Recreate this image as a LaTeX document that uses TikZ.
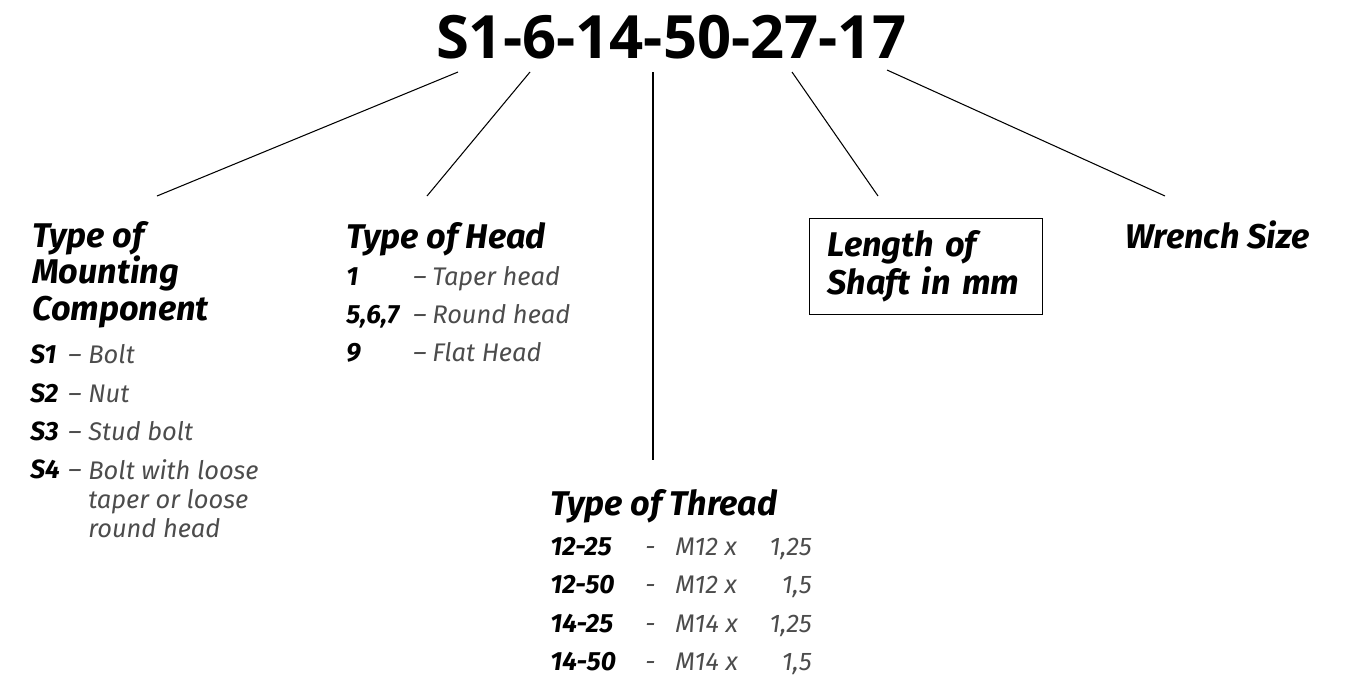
\documentclass[tikz,border=0pt]{standalone}
\usepackage{fontspec}
\setmainfont{Fira Sans}
\newfontfamily\codefont{Open Sans}
\usetikzlibrary{positioning}

\begin{document}
\begin{tikzpicture}[x=0.02cm, y=-0.02cm,
    head/.style={anchor=base west, align=left, inner sep=0pt,
                 font=\fontsize{19.5}{20.5}\selectfont\bfseries\itshape},
    key/.style={anchor=base west, inner sep=0pt,
                font=\fontsize{15}{16.5}\selectfont\bfseries\itshape},
    desc/.style={anchor=base west, align=left, inner sep=0pt, text=black!70,
                 font=\fontsize{14.5}{16.5}\selectfont\itshape},
    link/.style={line width=0.6pt}
]
\useasboundingbox (0,0) rectangle (1351,677);

\node[anchor=base, inner sep=0pt, font=\codefont\fontsize{34}{34}\selectfont\bfseries]
    (code) at (671,58) {S1-6-14-50-27-17};

% mounting component (multi-line nodes sit on their last baseline)
\node[head] (mount) at (32,320) {Type of\\Mounting\\Component};
\node[key] (s1) at (30,363) {S1};
\node[key] (s2) at (30,402) {S2};
\node[key] (s3) at (30,440) {S3};
\node[key] (s4) at (30,478) {S4};
\node[desc] (s1dash) at (68,363) {--};
\node[desc] (s2dash) at (68,402) {--};
\node[desc] (s3dash) at (68,440) {--};
\node[desc] (s4dash) at (68,478) {--};
\node[desc] (s1text) at (88,363) {Bolt};
\node[desc] (s2text) at (88,402) {Nut};
\node[desc] (s3text) at (88,440) {Stud bolt};
\node[desc] (s4text) at (88,537) {Bolt with loose\\taper or loose\\round head};

% head
\node[head] (head) at (346,248) {Type of Head};
\node[key] (h1) at (346,285) {1};
\node[key] (h5) at (346,323) {5,6,7};
\node[key] (h9) at (346,361) {9};
\node[desc] (h1dash) at (413,285) {--};
\node[desc] (h5dash) at (413,323) {--};
\node[desc] (h9dash) at (413,361) {--};
\node[desc] (h1text) at (432,285) {Taper head};
\node[desc] (h5text) at (432,323) {Round head};
\node[desc] (h9text) at (432,361) {Flat Head};

% thread
\node[head] (thread) at (550,515) {Type of Thread};
\node[key] (t1) at (550,555) {12-25};
\node[key] (t2) at (550,593) {12-50};
\node[key] (t3) at (550,632) {14-25};
\node[key] (t4) at (550,670) {14-50};
\node[desc] (t1dash) at (645,555) {-};
\node[desc] (t2dash) at (645,593) {-};
\node[desc] (t3dash) at (645,632) {-};
\node[desc] (t4dash) at (645,670) {-};
\node[desc] (t1size) at (675,555) {M12 x};
\node[desc] (t2size) at (675,593) {M12 x};
\node[desc] (t3size) at (675,632) {M14 x};
\node[desc] (t4size) at (675,670) {M14 x};
\node[desc, anchor=base east] (t1pitch) at (812,555) {1,25};
\node[desc, anchor=base east] (t2pitch) at (812,593) {1,5};
\node[desc, anchor=base east] (t3pitch) at (812,632) {1,25};
\node[desc, anchor=base east] (t4pitch) at (812,670) {1,5};

% length and wrench
\node[draw, line width=0.6pt, anchor=north west, align=left,
      minimum width=4.66cm, minimum height=1.92cm, inner xsep=0.36cm,
      text width=3.94cm, font=\fontsize{19.5}{21.5}\selectfont\bfseries\itshape]
    (length) at (809,218) {Length of\\Shaft in mm};
\node[head] (wrench) at (1125,248) {Wrench Size};

% links from the code
\coordinate (mountend) at (157,196);
\coordinate (headend) at (427,196);
\coordinate (threadend) at (653,460);
\coordinate (lengthend) at (878,196);
\coordinate (wrenchend) at (1165,196);
\coordinate (mountstart) at (458,72);
\coordinate (headstart) at (530,72);
\coordinate (threadstart) at (653,72);
\coordinate (lengthstart) at (792,72);
\coordinate (wrenchstart) at (887,70);

\draw[link] (mountstart) -- (mountend);
\draw[link] (headstart) -- (headend);
\draw[link] (threadstart) -- (threadend);
\draw[link] (lengthstart) -- (lengthend);
\draw[link] (wrenchstart) -- (wrenchend);

\end{tikzpicture}
\end{document}
